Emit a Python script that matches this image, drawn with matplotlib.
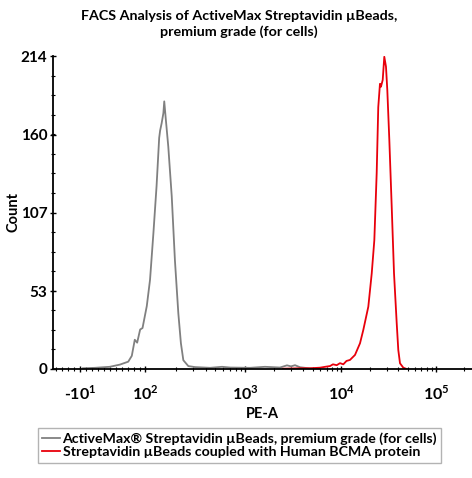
import numpy as np
import matplotlib
matplotlib.use("Agg")
import matplotlib.pyplot as plt
from matplotlib.ticker import FixedLocator, FixedFormatter

plt.rcParams['font.family'] = ['Lato', 'DejaVu Sans']
plt.rcParams['mathtext.fontset'] = 'custom'
plt.rcParams['mathtext.rm'] = 'Lato:bold'
plt.rcParams['mathtext.bf'] = 'Lato:bold'

# histogram traces, x = PE-A value, y = count
gray_x = [-5, 15, 40, 57, 71, 77, 82, 86, 91, 95, 103, 111, 120, 129, 137, 140,
          145, 151, 154, 159, 169, 183, 197, 213, 226, 239, 268, 313, 442, 582,
          700, 1114, 1596, 2285, 2705, 2977, 3279, 3697, 4700, 5972]
gray_y = [0.5, 0.8, 1.5, 3, 5, 9, 20, 18, 27, 28, 43, 61, 93, 125, 158, 163,
          168, 175, 183, 172, 152, 118, 74, 38, 17.6, 6, 2, 1.3, 0.8, 1.5,
          1.0, 0.8, 1.5, 1.0, 2.5, 1.8, 2.6, 1.2, 0.4, 0]

red_x = [2460, 3697, 4700, 5972, 6898, 7590, 8150, 8913, 9646, 10450, 11290,
         12300, 13890, 15700, 17010, 19220, 20890, 22250, 23570, 24490, 25530,
         26160, 27290, 28370, 29560, 30530, 32070, 33990, 35950, 38400, 39900,
         41600, 45080, 48940]
red_y = [0.2, 0.5, 0.5, 0.9, 1.6, 2, 3.2, 2.6, 4.0, 3.2, 5.5, 6.2, 9.6, 17.6,
         26.7, 42.6, 65.4, 88, 134, 179, 195, 193, 197.6, 213.5, 206.7, 190.7,
         156.6, 111, 65.4, 31.2, 13, 3.9, 0.9, 0]

x_ticks = [-10, 100, 1000, 10000, 100000]
x_ticklabels = ['-10$^{1}$', '10$^{2}$', '10$^{3}$', '10$^{4}$', '10$^{5}$']
y_ticks = [0, 53, 107, 160, 214]

title = "FACS Analysis of ActiveMax Streptavidin \u00b5Beads,\npremium grade (for cells)"
labels = ["ActiveMax\u00ae Streptavidin \u00b5Beads, premium grade (for cells)",
          "Streptavidin \u00b5Beads coupled with Human BCMA protein"]

# biexponential-like display scale (positions in display units)
LOGS = [2, 3, 4, 5, 6]
POS = [145.5, 245.5, 341.5, 436.0, 530.5]
LIN_SLOPE = (145.5 - 80.0) / 110.0


def fwd(x):
    x = np.asarray(x, dtype=float)
    lx = np.log10(np.maximum(x, 100))
    hi = np.interp(lx, LOGS, POS)
    lo = 145.5 + (x - 100) * LIN_SLOPE
    return np.where(x >= 100, hi, lo)


def inv(u):
    u = np.asarray(u, dtype=float)
    hi = 10 ** np.interp(u, POS, LOGS)
    lo = 100 + (u - 145.5) / LIN_SLOPE
    return np.where(u >= 145.5, hi, lo)


fig = plt.figure(figsize=(4.72, 4.78), dpi=100)
ax = fig.add_axes([53 / 472, 109 / 478, 419 / 472, 313 / 478])
ax.set_xscale('function', functions=(fwd, inv))

ax.plot(gray_x, gray_y, color='#808080', lw=1.3, label=labels[0])
ax.plot(red_x, red_y, color='#e8000b', lw=1.3, label=labels[1])

ax.set_xlim(float(inv(53)), float(inv(472)))
ax.set_ylim(0, 214)

minor_x = [v for v in range(-50, 100, 10) if v != -10]
for d in [100, 1000, 10000, 100000]:
    minor_x += [k * d for k in range(2, 10)]
ax.xaxis.set_major_locator(FixedLocator(x_ticks))
ax.xaxis.set_major_formatter(FixedFormatter(x_ticklabels))
ax.xaxis.set_minor_locator(FixedLocator(minor_x))
ax.xaxis.set_minor_formatter(FixedFormatter([]))
ax.set_yticks(y_ticks)
ax.set_yticklabels([str(v) for v in y_ticks])
ax.yaxis.set_minor_locator(FixedLocator([i * 214 / 16 for i in range(17)]))

for s in ['top', 'right']:
    ax.spines[s].set_visible(False)
for s in ['left', 'bottom']:
    ax.spines[s].set_linewidth(1.3)
ax.tick_params(axis='both', which='major', direction='inout', length=4, width=1)
ax.tick_params(axis='both', which='minor', direction='inout', length=3, width=0.8)
ax.tick_params(axis='x', which='major', pad=9, labelsize=11.5)
ax.tick_params(axis='y', which='major', pad=2, labelsize=11)
for t in ax.get_yticklabels() + ax.get_xticklabels():
    t.set_fontweight('bold')

ax.set_xlabel('PE-A', fontsize=10.5, fontweight='bold', labelpad=3)
ax.set_ylabel('Count', fontsize=10.5, fontweight='bold')
ax.yaxis.set_label_coords((21 - 53) / 419, (369 - 212) / 313)

fig.text(239 / 472, 1 - 24 / 478, title, ha='center', va='center',
         fontsize=10.3, fontweight='bold', linespacing=1.4)

leg = fig.legend(loc='upper center', bbox_to_anchor=(239.5 / 472, 1 - 428 / 478),
                 prop={'weight': 'bold', 'size': 10.2},
                 frameon=True, fancybox=False, edgecolor='#a0a0a0',
                 handlelength=1.3, handletextpad=0.15, borderpad=0.3,
                 labelspacing=0.1, borderaxespad=0)
leg.get_frame().set_linewidth(1.0)

fig.savefig('out.png', dpi=100)
